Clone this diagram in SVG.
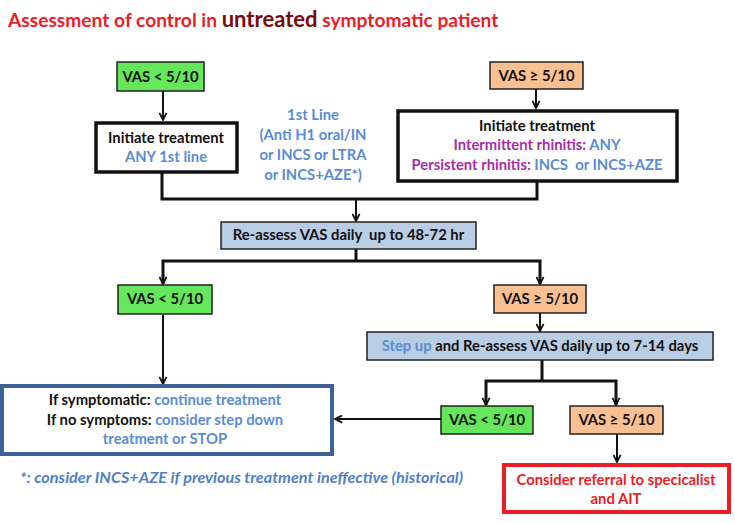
<svg xmlns="http://www.w3.org/2000/svg" width="735" height="523" viewBox="0 0 735 523">
<style>
text{font-family:Lato,"Open Sans","Liberation Sans",sans-serif;font-weight:bold;font-size:14.8px;fill:#111;text-anchor:middle;white-space:pre}
.lb{fill:#5a8cd4}
.pu{fill:#a52ea8}
.rd{fill:#ee1c25}
.ttl{text-anchor:start;font-size:19.2px;fill:#ee1c25}
.box{stroke:#222;stroke-width:1.5}
.thick{fill:#fff;stroke:#111;stroke-width:3.5}
.green{fill:#66e65a}
.orange{fill:#fac091}
.blue{fill:#b9cde5}
.c{fill:none;stroke:#111;stroke-width:2}
.ct{fill:none;stroke:#111;stroke-width:3}
</style>
<defs>
<marker id="ah" viewBox="0 0 10 10" refX="9" refY="5" markerWidth="4.5" markerHeight="4.5" orient="auto" markerUnits="strokeWidth">
<path d="M1,1 L9,5 L1,9" fill="none" stroke="#111" stroke-width="2"/>
</marker>
</defs>
<rect width="735" height="523" fill="#fff"/>
<g id="title">
<text x="8" y="27" class="ttl">Assessment of control in <tspan style="fill:#7a0a0a;font-size:22px">untreated</tspan> symptomatic patient</text>
</g>

<g id="connectors">
<path class="c" d="M163,91 V120" marker-end="url(#ah)"/>
<path class="c" d="M536,89 V108" marker-end="url(#ah)"/>
<path class="ct" d="M162,172 V199 H537 V181"/>
<path class="c" d="M356,199 V221" marker-end="url(#ah)"/>
<path class="ct" d="M356,249 V261"/>
<path class="ct" d="M163,284 V261 H540 V284"/>
<path class="c" d="M163,265 V284" marker-end="url(#ah)"/>
<path class="c" d="M540,265 V284" marker-end="url(#ah)"/>
<path class="c" d="M163,315 V384" marker-end="url(#ah)"/>
<path class="c" d="M540,313 V331" marker-end="url(#ah)"/>
<path class="ct" d="M542,360 V381"/>
<path class="ct" d="M486,405 V381 H616 V405"/>
<path class="c" d="M486,390 V405" marker-end="url(#ah)"/>
<path class="c" d="M616,390 V405" marker-end="url(#ah)"/>
<path class="c" d="M441,419 H335" marker-end="url(#ah)"/>
<path class="c" d="M617,434 V462" marker-end="url(#ah)"/>
</g>

<g id="vas-low-top">
<rect class="box green" x="117" y="62" width="87" height="29"/>
<text x="160.5" y="82">VAS &lt; 5/10</text>
</g>
<g id="vas-high-top">
<rect class="box orange" x="490" y="62" width="93" height="27"/>
<text x="536.5" y="81">VAS ≥ 5/10</text>
</g>
<g id="init-left">
<rect class="thick" x="96" y="123" width="141" height="49"/>
<text x="166" y="143">Initiate treatment</text>
<text x="166" y="162" class="lb">ANY 1st line</text>
</g>
<g id="first-line-note">
<text x="313" y="120" class="lb">1st Line</text>
<text x="313" y="140" class="lb">(Anti H1 oral/IN</text>
<text x="313" y="160" class="lb">or INCS or LTRA</text>
<text x="313" y="180" class="lb">or INCS+AZE*)</text>
</g>
<g id="init-right">
<rect class="thick" x="398" y="111" width="279" height="70"/>
<text x="537" y="131">Initiate treatment</text>
<text x="537" y="150"><tspan class="pu">Intermittent rhinitis: </tspan><tspan class="lb">ANY</tspan></text>
<text x="537" y="170"><tspan class="pu">Persistent rhinitis: </tspan><tspan class="lb">INCS  or INCS+AZE</tspan></text>
</g>
<g id="reassess">
<rect class="box blue" x="221" y="222" width="255" height="27"/>
<text x="348.5" y="240">Re-assess VAS daily  up to 48-72 hr</text>
</g>
<g id="vas-low-mid">
<rect class="box green" x="118" y="285" width="94" height="29"/>
<text x="165" y="304">VAS &lt; 5/10</text>
</g>
<g id="vas-high-mid">
<rect class="box orange" x="494" y="285" width="92" height="28"/>
<text x="540" y="304">VAS ≥ 5/10</text>
</g>
<g id="continue">
<rect x="2" y="386" width="330" height="68" fill="#fff" stroke="#3d6196" stroke-width="4"/>
<text x="165" y="405">If symptomatic: <tspan class="lb">continue treatment</tspan></text>
<text x="165" y="425">If no symptoms: <tspan class="lb">consider step down</tspan></text>
<text x="165" y="444" class="lb">treatment or STOP</text>
</g>
<g id="stepup">
<rect class="box blue" x="367" y="332" width="346" height="28"/>
<text x="540" y="351"><tspan class="lb">Step up</tspan> and Re-assess VAS daily up to 7-14 days</text>
</g>
<g id="vas-low-bot">
<rect class="box green" x="441" y="406" width="92" height="28"/>
<text x="487" y="425">VAS &lt; 5/10</text>
</g>
<g id="vas-high-bot">
<rect class="box orange" x="570" y="406" width="93" height="28"/>
<text x="616.5" y="425">VAS ≥ 5/10</text>
</g>
<g id="referral">
<rect x="504" y="465" width="225" height="47" fill="#fff" stroke="#ee1c25" stroke-width="4"/>
<text x="616" y="485" class="rd">Consider referral to specicalist</text>
<text x="616" y="504" class="rd">and AIT</text>
</g>
<text x="20" y="483" style="text-anchor:start;font-style:italic;fill:#4f7fc8" textLength="443" lengthAdjust="spacingAndGlyphs">*: consider INCS+AZE if previous treatment ineffective (historical)</text>
</svg>
